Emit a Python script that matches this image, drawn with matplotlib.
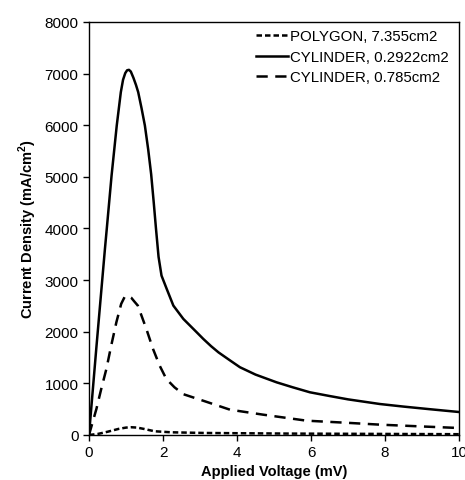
import matplotlib
matplotlib.use("Agg")
import matplotlib.pyplot as plt

plt.rcParams['font.family'] = ['Liberation Sans', 'DejaVu Sans']

# CYLINDER, 0.2922cm2 (solid)
v_cyl1 = [0, 0.2, 0.43, 0.48, 0.61, 0.75, 0.86, 0.92, 0.98, 1.03, 1.08, 1.13, 1.2, 1.27, 1.33, 1.42,
          1.51, 1.6, 1.68, 1.75, 1.81, 1.88, 1.96, 2.1, 2.28, 2.55, 2.91, 3.09, 3.3, 3.5, 3.8,
          4.08, 4.5, 5.07, 5.5, 5.97, 6.5, 7.0, 7.86, 8.5, 9.2, 10]
j_cyl1 = [0, 1700, 3600, 3992, 5025, 5995, 6640, 6880, 7010, 7065, 7073, 7040, 6920, 6780, 6640, 6330,
          5995, 5530, 5050, 4500, 4000, 3450, 3087, 2830, 2506, 2248, 1990, 1860, 1720, 1600, 1450,
          1312, 1170, 1020, 925, 827, 755, 690, 600, 550, 500, 445]

# CYLINDER, 0.785cm2 (long dashes)
v_cyl2 = [0, 0.2, 0.33, 0.47, 0.6, 0.74, 0.87, 0.96, 1.05, 1.14, 1.22, 1.32, 1.55, 1.73, 1.91,
          2.09, 2.31, 2.55, 3.08, 3.81, 4.7, 5.88, 7.0, 7.86, 9.0, 10]
j_cyl2 = [0, 504, 890, 1280, 1730, 2184, 2540, 2670, 2700, 2660, 2590, 2506, 2054, 1667, 1343,
          1085, 924, 790, 665, 490, 394, 277, 235, 200, 165, 135]

# POLYGON, 7.355cm2 (short dashes)
v_poly = [0, 0.24, 0.51, 0.8, 1.0, 1.14, 1.3, 1.5, 1.77, 2.22, 3.1, 4.0, 5.4, 8.0, 10]
j_poly = [0, 20, 64, 118, 143, 150, 143, 115, 72, 52, 39, 34, 27, 20, 15]

fig = plt.figure(figsize=(4.65, 4.81), dpi=100)
ax = fig.add_axes([0.1914, 0.0936, 0.7957, 0.8586])

ax.plot(v_poly, j_poly, color='black', lw=1.8, dashes=(2.2, 1.2), label='POLYGON, 7.355cm2')
ax.plot(v_cyl1, j_cyl1, color='black', lw=1.8, label='CYLINDER, 0.2922cm2')
ax.plot(v_cyl2, j_cyl2, color='black', lw=1.8, dashes=(4.5, 3), label='CYLINDER, 0.785cm2')

ax.set_xlim(0, 10)
ax.set_ylim(0, 8000)
ax.set_xticks(range(0, 11, 2))
ax.set_yticks(range(0, 8001, 1000))
ax.tick_params(direction='out', length=4, width=1, labelsize=11, colors='black')
for s in ax.spines.values():
    s.set_linewidth(1)

ax.set_xlabel('Applied Voltage (mV)', fontsize=10.5, fontweight='bold', labelpad=3.5)
ax.set_ylabel('Current Density (mA/cm$^\\mathregular{2}$)', fontsize=10.5, fontweight='bold', labelpad=4)

ax.legend(loc='upper right', frameon=False, fontsize=10.8, handlelength=2.1, handletextpad=0.15,
          labelspacing=0.42, borderaxespad=0.1, bbox_to_anchor=(0.993, 1.0))

fig.savefig('out.png', dpi=100)
